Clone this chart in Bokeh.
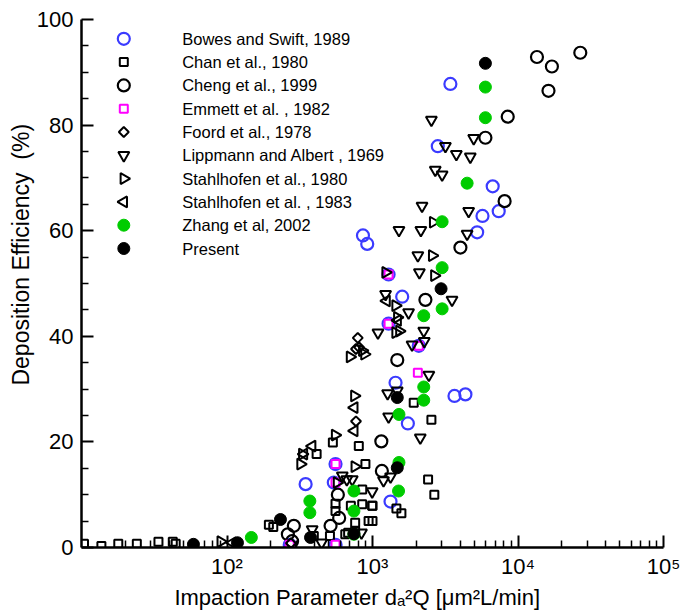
from math import pi
from bokeh.plotting import figure
from bokeh.models import FixedTicker, Range1d, LinearScale
from bokeh.core.properties import value
from bokeh.embed import file_html
from bokeh.resources import INLINE

# ---------------- data ----------------
bowes_x = [3430, 2810, 6700, 7370, 5700, 5240, 860, 920, 1600, 1290, 1290, 2080, 1440,
           3660, 4350, 1750, 1330, 347, 557, 542, 270, 557]
bowes_y = [87.8, 76.0, 68.4, 63.7, 62.8, 59.7, 59.1, 57.5, 47.5, 51.7, 42.4, 38.2, 31.2,
           28.7, 29.0, 23.5, 8.7, 12.0, 15.8, 12.3, 0.5, 0.5]

chan_x = [10.4, 13.7, 17.9, 24, 33.8, 44.4, 42.4, 194, 208, 413, 534, 805, 894, 850, 850,
          995, 940, 760, 760, 650, 510, 395, 1920, 2540, 2410, 2660, 1460, 1580, 1000, 1000,
          557, 557, 710, 680]
chan_y = [0.7, 0.3, 0.7, 0.7, 1.1, 0.7, 1.1, 4.3, 3.9, 17.7, 19.9, 19.2, 15.8, 11.0, 8.2,
          7.9, 5.0, 4.7, 3.1, 2.5, 2.2, 2.2, 27.4, 24.2, 12.9, 10.0, 7.4, 6.5, 7.9, 5.0,
          8.3, 6.9, 7.9, 2.8]

cheng_x = [13500, 17100, 26800, 16200, 8500, 5970, 8090, 4020, 2310, 1480, 1150, 1160,
           578, 590, 288, 262, 515, 280]
cheng_y = [92.9, 91.1, 93.7, 86.5, 81.6, 77.6, 65.6, 56.8, 46.9, 35.5, 20.1, 14.5,
           10.0, 5.6, 4.1, 2.5, 4.1, 1.2]

emmett_x = [1290, 1290, 2080, 2050, 557, 557, 270, 557]
emmett_y = [51.7, 42.4, 38.2, 33.1, 15.8, 12.3, 0.5, 0.5]

foord_x = [792, 770, 810, 770, 275]
foord_y = [39.7, 37.6, 37.9, 23.9, 0.8]

lipp_x = [2540, 3170, 4960, 3770, 4700, 2700, 3010, 2190, 4580, 4470, 2150, 1520, 2050,
          3520, 2100, 1230, 1770, 1090, 2250, 1870, 2270, 2440, 1270, 1480, 1290, 2130,
          995, 1190, 1330, 666, 385, 447, 840, 620, 726]
lipp_y = [81.0, 76.0, 77.5, 74.5, 74.0, 71.5, 70.6, 64.7, 63.7, 59.4, 60.1, 60.1, 55.3,
          46.9, 52.1, 48.0, 44.5, 40.7, 41.0, 38.4, 39.1, 32.7, 29.2, 29.7, 24.8, 20.8,
          10.6, 12.7, 13.4, 12.9, 3.4, 0.9, 2.8, 13.6, 12.9]

stahl80_x = [90.5, 329, 320, 553, 755, 570, 1230, 2570, 2660, 700, 750, 1440, 1480, 1530,
             1440, 850, 880, 2610]
stahl80_y = [1.1, 17.7, 15.8, 21.3, 15.3, 12.3, 52.1, 55.3, 51.5, 36.1, 28.7, 45.8, 43.6,
             41.0, 40.7, 37.3, 36.6, 61.6]

stahl83_x = [750, 750, 385, 338, 109, 1250, 1490]
stahl83_y = [26.5, 22.1, 19.2, 17.7, 0.9, 46.7, 43.0]

zhang_x = [5970, 5970, 4470, 3010, 3010, 3010, 2250, 2250, 2250, 1520, 1520, 1510, 745,
           745, 371, 371, 147, 745]
zhang_y = [87.2, 81.4, 69.0, 61.7, 53.0, 45.2, 43.9, 30.4, 27.9, 25.2, 16.1, 10.7, 10.7,
           6.9, 8.8, 6.6, 1.9, 2.5]

present_x = [5970, 2960, 1480, 1480, 233, 375, 745, 118, 58.8]
present_y = [91.7, 49.0, 28.4, 15.1, 5.3, 1.9, 2.6, 0.9, 0.6]

labels = ["Bowes and Swift, 1989", "Chan et al., 1980", "Cheng et al., 1999",
          "Emmett et al. , 1982", "Foord et al., 1978", "Lippmann and Albert , 1969",
          "Stahlhofen et al., 1980", "Stahlhofen et al. , 1983", "Zhang et al, 2002",
          "Present"]

x_ticks = [100, 1000, 10000, 100000]
x_tick_labels = ["10\u00b2", "10\u00b3", "10\u2074", "10\u2075"]
y_ticks = [0, 20, 40, 60, 80, 100]

# ---------------- figure ----------------
FONT = "Liberation Sans"
W, H = 683, 615
BL, BR, BT, BB = 81, 20, 19, 68
FW, FH = W - BL - BR, H - BT - BB

p = figure(width=W, height=H, x_axis_type="log", x_range=(10, 1e5), y_range=(0, 100),
           output_backend="svg", toolbar_location=None,
           min_border_left=BL, min_border_right=BR, min_border_top=BT, min_border_bottom=BB)
p.grid.visible = False
p.outline_line_color = None
p.background_fill_color = "white"
p.border_fill_color = "white"

minor_x = []
for dec in [10, 100, 1000, 10000]:
    minor_x += [dec * k for k in range(2, 10)]
p.xaxis.ticker = FixedTicker(ticks=x_ticks, minor_ticks=minor_x)
p.xaxis.major_label_overrides = {t: l for t, l in zip(x_ticks, x_tick_labels)}
p.yaxis.ticker = FixedTicker(ticks=y_ticks, minor_ticks=[v for v in range(0, 101, 5) if v % 20])

for ax in (p.xaxis[0], p.yaxis[0]):
    ax.axis_line_width = 2.5
    ax.axis_line_color = "black"
    ax.major_tick_in = 12
    ax.major_tick_out = 0
    ax.minor_tick_in = 7
    ax.minor_tick_out = 0
    ax.major_tick_line_width = 2
    ax.minor_tick_line_width = 1.5
    ax.major_tick_line_color = "black"
    ax.minor_tick_line_color = "black"
    ax.major_label_text_font = FONT
    ax.major_label_text_font_size = "22px"
    ax.major_label_text_color = "black"
    ax.axis_label_text_font = FONT
    ax.axis_label_text_font_style = "normal"
    ax.axis_label_text_color = "black"

p.xaxis.axis_label_text_font_size = "22px"
p.yaxis.axis_label_text_font_size = "23px"
p.xaxis.major_label_standoff = 6
p.xaxis.axis_label_standoff = 3
p.yaxis.major_label_standoff = 8
p.yaxis.axis_label_standoff = 0
p.xaxis.axis_label = "Impaction Parameter d\u2090\u00b2Q [\u03bcm\u00b2L/min]" + "\u00a0" * 5
p.yaxis.axis_label = "\u00a0" * 9 + "Deposition Efficiency\u00a0\u00a0(%)"

# ---------------- series ----------------
BLUE = "#3b3bff"
MAG = "#ff00ff"
GREEN = "#00cc00"

styles = [
    dict(marker="circle", size=12, fill_alpha=0, line_color=BLUE, line_width=2.2),
    dict(marker="square", size=8, fill_alpha=0, line_color="black", line_width=2),
    dict(marker="circle", size=12, fill_alpha=0, line_color="black", line_width=2.2),
    dict(marker="square", size=8, fill_alpha=0, line_color=MAG, line_width=2),
    dict(marker="square", size=7, angle=pi / 4, fill_alpha=0, line_color="black", line_width=2),
    dict(marker="inverted_triangle", size=11, fill_alpha=0, line_color="black", line_width=2),
    dict(marker="triangle", size=11, angle=-pi / 2, fill_alpha=0, line_color="black", line_width=2),
    dict(marker="triangle", size=11, angle=pi / 2, fill_alpha=0, line_color="black", line_width=2),
    dict(marker="circle", size=12, fill_color=GREEN, line_color=GREEN, line_width=1),
    dict(marker="circle", size=12, fill_color="black", line_color="black", line_width=1),
]
data = [(bowes_x, bowes_y), (chan_x, chan_y), (cheng_x, cheng_y), (emmett_x, emmett_y),
        (foord_x, foord_y), (lipp_x, lipp_y), (stahl80_x, stahl80_y),
        (stahl83_x, stahl83_y), (zhang_x, zhang_y), (present_x, present_y)]

for (xs, ys), st in zip(data, styles):
    p.scatter(xs, ys, **st)

# ---------------- legend (drawn in a pixel-based helper range) ----------------
p.extra_x_ranges = {"lx": Range1d(0, FW)}
p.extra_y_ranges = {"ly": Range1d(0, FH)}
p.extra_x_scales = {"lx": LinearScale()}
p.extra_y_scales = {"ly": LinearScale()}
LEG_MARK_X = 42.3
LEG_TEXT_X = 100.7
LEG_TOP = 19.3
LEG_STEP = 23.3
rows_y = [FH - (LEG_TOP + LEG_STEP * i) for i in range(len(labels))]
for yv, st in zip(rows_y, styles):
    p.scatter([LEG_MARK_X], [yv], x_range_name="lx", y_range_name="ly", **st)
p.text(x=[LEG_TEXT_X] * len(labels), y=rows_y, text=labels,
       x_range_name="lx", y_range_name="ly",
       text_font=value(FONT), text_font_size="16.5px", text_color="black",
       text_align="left", text_baseline="middle")

open("out.html", "w").write(file_html(p, INLINE))
